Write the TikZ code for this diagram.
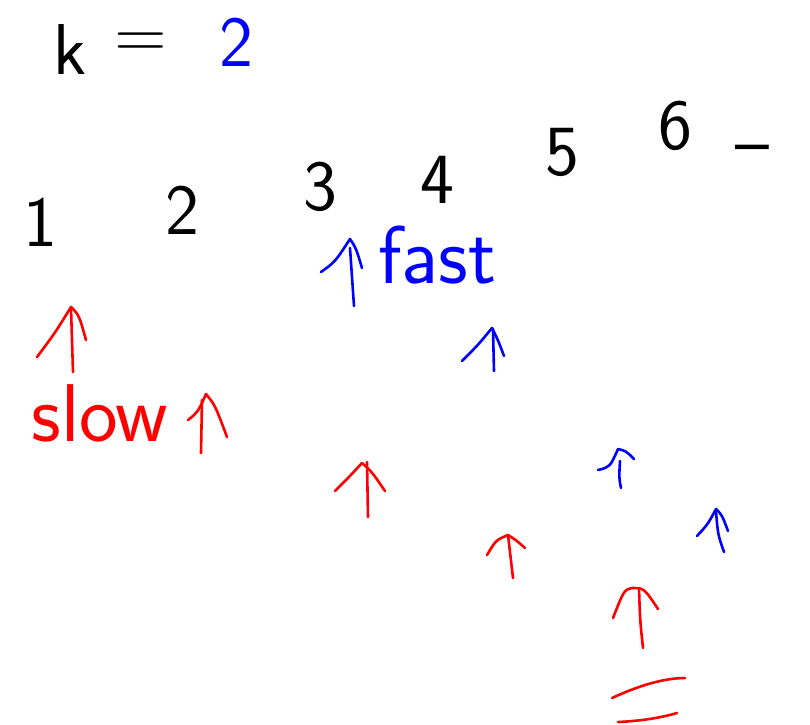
\documentclass[tikz,border=0pt]{standalone}
\begin{document}
\begin{tikzpicture}[x=1pt,y=-1pt,
  txt/.style={inner sep=0pt,font=\sffamily\fontsize{72}{72}\selectfont},
  bigtxt/.style={inner sep=0pt,font=\sffamily\fontsize{82}{82}\selectfont},
  redstroke/.style={draw=red,line width=2.6pt,line cap=round,line join=round},
  bluestroke/.style={draw=blue,line width=2.6pt,line cap=round,line join=round}]
\useasboundingbox[fill=white] (0,0) rectangle (810,724);
% k = 2
\node[txt] (k) at (70,50) {k};
\node[txt] (eq) at (141,46) {=};
\node[txt,text=blue] (two) at (236,42) {2};
% numbers
\node[txt] (n1) at (40,222) {1};
\node[txt] (n2) at (182,210) {2};
\node[txt] (n3) at (320,187) {3};
\node[txt] (n4) at (437,180) {4};
\node[txt] (n5) at (562,152) {5};
\node[txt] (n6) at (675,126) {6};
\node[txt] (dash6) at (752,156) {--};
% fast
\node[bigtxt,text=blue] (fast) at (437,255) {fast};
\draw[bluestroke] (321,272) .. controls (335,262) .. (350,239) .. controls (356,248) .. (362,268);
\draw[bluestroke] (350,248) -- (354,306);
% slow
\node[bigtxt,text=red] (slow) at (100,413) {slow};
% red arrows
\draw[redstroke] (37,357) .. controls (55,333) .. (71,307) .. controls (79,315) .. (86,340);
\draw[redstroke] (71,308) -- (73,372);
\draw[redstroke] (188,420) .. controls (198,412) .. (206,394) .. controls (215,405) .. (227,437);
\draw[redstroke] (202,400) -- (201,453);
\draw[redstroke] (335,491) .. controls (350,476) .. (362,463) .. controls (372,472) .. (385,491);
\draw[redstroke] (367,462) -- (368,517);
\draw[redstroke] (487,555) .. controls (496,540) .. (508,535) .. controls (516,540) .. (525,548);
\draw[redstroke] (508,535) -- (513,578);
\draw[redstroke] (613,618) .. controls (624,590) .. (632,588) .. controls (644,588) .. (658,609);
\draw[redstroke] (639,588) .. controls (640,620) .. (643,648);
% red = at bottom
\draw[redstroke] (612,698) .. controls (640,685) and (665,678) .. (685,678);
\draw[redstroke] (618,722) .. controls (640,721) and (660,718) .. (677,713);
% blue arrows
\draw[bluestroke] (462,361) .. controls (478,345) .. (492,328) .. controls (498,340) .. (504,356);
\draw[bluestroke] (493,329) -- (494,371);
\draw[bluestroke] (598,470) .. controls (610,467) .. (618,449) .. controls (626,451) .. (634,459);
\draw[bluestroke] (620,461) .. controls (619,478) .. (621,488);
\draw[bluestroke] (697,536) .. controls (708,524) .. (716,509) .. controls (722,515) .. (728,531);
\draw[bluestroke] (716,512) .. controls (718,535) .. (724,552);
\end{tikzpicture}
\end{document}
